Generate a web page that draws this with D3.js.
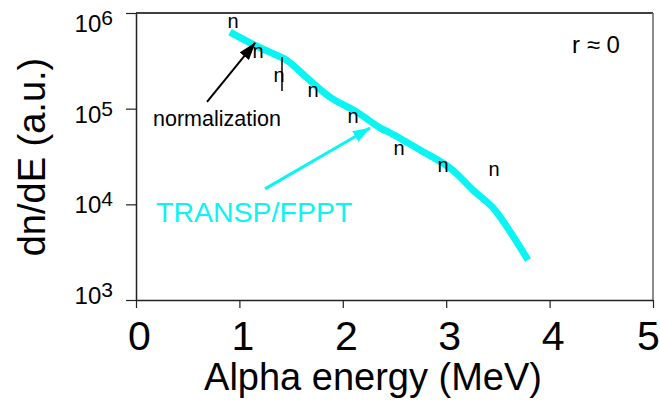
<!doctype html>
<html lang="en">
<head>
    <meta charset="utf-8">
    <title>Alpha energy spectrum</title>
    <script src="https://d3js.org/d3.v7.min.js"></script>
    <style>
        body { margin: 0; background: #fff; }
        text { font-family: "Liberation Sans", Arial, Helvetica, sans-serif; }
    </style>
</head>
<body>
<script>
    // TRANSP/FPPT simulated spectrum
    var curveE = [0.909, 1.132, 1.364, 1.460, 1.654, 1.876, 2.137, 2.360, 2.456, 2.747, 3.037, 3.259, 3.453, 3.588, 3.791];
    var curveVal = [6.3e5, 4.7e5, 3.6e5, 3.2e5, 2.1e5, 1.32e5, 9.2e4, 6.3e4, 5.6e4, 3.7e4, 2.4e4, 1.41e4, 9.2e3, 5.8e3, 2.62e3];

    // measured points, drawn as "n"
    var measE = [0.938, 1.180, 1.383, 1.712, 2.099, 2.544, 2.969, 3.462];
    var measVal = [7.86e5, 3.82e5, 2.14e5, 1.49e5, 8.0e4, 3.70e4, 2.46e4, 2.23e4];

    // one error bar
    var errE = [1.412];
    var errLo = [1.53e5];
    var errHi = [3.47e5];

    var xTicks = [0, 1, 2, 3, 4, 5];
    var yTicks = [1e3, 1e4, 1e5, 1e6];
    var yExp = ["3", "4", "5", "6"];

    var width = 660, height = 402;
    var cyan = "#0af4f4";

    var x = d3.scaleLinear().domain([0, 5]).range([136, 653]);
    var y = d3.scaleLog().domain([1e3, 1e6]).range([300, 13]);
    // the hand-placed "10^n" labels drift a little from their ticks
    var yLab = d3.scaleLog().domain([1e3, 1e6]).range([304, 32]);

    var svg = d3.select("body").append("svg")
        .attr("width", width)
        .attr("height", height);

    var defs = svg.append("defs");
    function head(id, col) {
        defs.append("marker")
            .attr("id", id)
            .attr("viewBox", "0 0 18 12")
            .attr("refX", 17).attr("refY", 6)
            .attr("markerWidth", 18).attr("markerHeight", 12)
            .attr("markerUnits", "userSpaceOnUse")
            .attr("orient", "auto")
            .append("path")
            .attr("d", "M0,0 L18,6 L0,12 Z")
            .attr("fill", col);
    }
    head("hk", "#000");
    head("hc", cyan);

    // frame
    svg.append("line")
        .attr("x1", x(0)).attr("x2", x(5))
        .attr("y1", y(1e6)).attr("y2", y(1e6))
        .attr("stroke", "#000").attr("stroke-width", 1.5);
    svg.append("line")
        .attr("x1", x(5)).attr("x2", x(5))
        .attr("y1", y(1e6)).attr("y2", y(1e3))
        .attr("stroke", "#666").attr("stroke-width", 1.5);

    // axes
    svg.append("g")
        .attr("transform", "translate(0," + y(1e3) + ")")
        .call(d3.axisBottom(x).tickValues(xTicks).tickSize(8).tickSizeOuter(0).tickFormat(d3.format("d")))
        .call(function (g) {
            g.select(".domain").attr("stroke", "#222").attr("stroke-width", 1.5);
            g.selectAll(".tick line").attr("stroke", "#222").attr("stroke-width", 1.2);
            g.selectAll("text")
                .attr("y", 50).attr("dy", 0)
                .attr("dx", function (d) { return d === 5 ? -5 : 3; })
                .attr("font-size", 41)
                .attr("fill", "#000");
        });

    svg.append("g")
        .attr("transform", "translate(" + x(0) + ",0)")
        .call(d3.axisLeft(y).tickValues(yTicks).tickSize(10).tickSizeOuter(0).tickFormat(""))
        .call(function (g) {
            g.select(".domain").attr("stroke", "#222").attr("stroke-width", 1.5);
            g.selectAll(".tick line").attr("stroke", "#222").attr("stroke-width", 1.2);
        });

    var lab = svg.append("g").selectAll("text")
        .data(yTicks)
        .enter().append("text")
        .attr("x", 113)
        .attr("y", function (d) { return yLab(d); })
        .attr("text-anchor", "end")
        .attr("font-size", 24);
    lab.append("tspan").text("10");
    lab.append("tspan")
        .attr("dy", -7)
        .attr("font-size", 21)
        .text(function (d, i) { return yExp[i]; });

    // axis titles
    svg.append("text")
        .attr("x", 373).attr("y", 390)
        .attr("text-anchor", "middle")
        .attr("font-size", 38)
        .text("Alpha energy (MeV)");
    svg.append("text")
        .attr("transform", "translate(45,157) rotate(-90)")
        .attr("text-anchor", "middle")
        .attr("font-size", 38)
        .text("dn/dE (a.u.)");

    // simulation curve
    var line = d3.line()
        .x(function (d, i) { return x(curveE[i]); })
        .y(function (d) { return y(d); })
        .curve(d3.curveCatmullRom);
    svg.append("path")
        .datum(curveVal)
        .attr("d", line)
        .attr("fill", "none")
        .attr("stroke", cyan)
        .attr("stroke-width", 7)
        .attr("stroke-linejoin", "round");

    // error bar
    svg.selectAll(".err")
        .data(errE)
        .enter().append("line")
        .attr("x1", function (d) { return x(d); })
        .attr("x2", function (d) { return x(d); })
        .attr("y1", function (d, i) { return y(errHi[i]); })
        .attr("y2", function (d, i) { return y(errLo[i]); })
        .attr("stroke", "#000").attr("stroke-width", 1.5);

    // measured points
    svg.selectAll(".meas")
        .data(measVal)
        .enter().append("text")
        .attr("x", function (d, i) { return x(measE[i]); })
        .attr("y", function (d) { return y(d) + 5; })
        .attr("text-anchor", "middle")
        .attr("font-size", 20)
        .text("n");

    // annotations
    svg.append("line")
        .attr("x1", x(0.687)).attr("y1", y(1.175e5))
        .attr("x2", x(1.151)).attr("y2", y(4.86e5))
        .attr("stroke", "#000").attr("stroke-width", 2)
        .attr("marker-end", "url(#hk)");
    svg.append("text")
        .attr("x", 153).attr("y", 126)
        .attr("font-size", 21.5)
        .text("normalization");

    svg.append("line")
        .attr("x1", x(1.248)).attr("y1", y(1.45e4))
        .attr("x2", x(2.263)).attr("y2", y(6.28e4))
        .attr("stroke", cyan).attr("stroke-width", 3)
        .attr("marker-end", "url(#hc)");
    svg.append("text")
        .attr("x", 156).attr("y", 222)
        .attr("font-size", 28.5)
        .attr("fill", cyan)
        .text("TRANSP/FPPT");

    svg.append("text")
        .attr("x", 572).attr("y", 53)
        .attr("font-size", 24)
        .text("r \u2248 0");
</script>
</body>
</html>
